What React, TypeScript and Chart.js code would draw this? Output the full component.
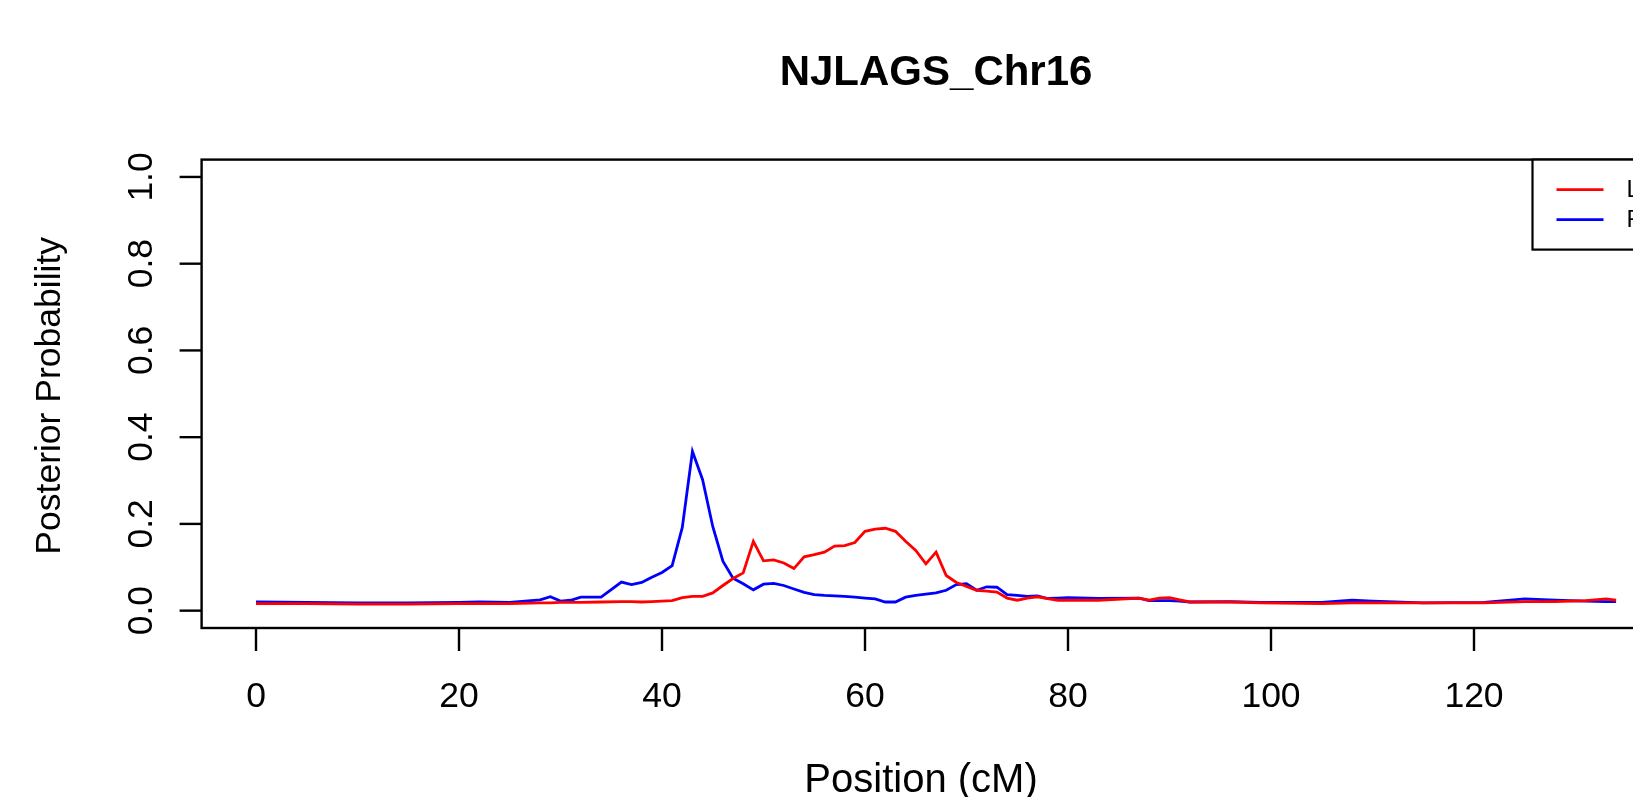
import React, { useEffect, useRef } from "react";
import { Chart, registerables } from "chart.js";

Chart.register(...registerables);

const positions = [
  0, 5, 10, 15, 20, 22, 25, 28, 29, 30, 31, 32, 34, 36, 37, 38, 39, 40, 41, 42, 43, 44, 45, 46, 47, 48, 49,
  50, 51, 52, 53, 54, 55, 56, 57, 58, 59, 60, 61, 62, 63, 64, 65, 66, 67, 68, 69, 70, 71, 72, 73, 74, 75,
  76, 77, 78, 79, 80, 83, 87, 88, 89, 90, 91, 92, 96, 99, 103, 105, 108, 110, 115, 121, 125, 128, 131, 133,
  134,
];

const seriesLI = [
  0.016, 0.016, 0.015, 0.015, 0.016, 0.016, 0.016, 0.018, 0.018, 0.019, 0.019, 0.019, 0.02, 0.021, 0.021,
  0.02, 0.021, 0.022, 0.023, 0.03, 0.033, 0.033, 0.041, 0.058, 0.074, 0.087, 0.16, 0.115, 0.117, 0.11,
  0.097, 0.124, 0.129, 0.135, 0.149, 0.15, 0.157, 0.183, 0.188, 0.19, 0.183, 0.16, 0.139, 0.108, 0.135,
  0.081, 0.065, 0.056, 0.047, 0.045, 0.043, 0.029, 0.024, 0.029, 0.032, 0.028, 0.024, 0.024, 0.024, 0.029,
  0.024, 0.029, 0.03, 0.025, 0.02, 0.02, 0.018, 0.017, 0.016, 0.018, 0.018, 0.018, 0.018, 0.021, 0.021,
  0.023, 0.027, 0.024,
];

const seriesRD = [
  0.02, 0.019, 0.018, 0.018, 0.019, 0.02, 0.019, 0.025, 0.032, 0.022, 0.024, 0.031, 0.031, 0.066, 0.06,
  0.065, 0.077, 0.088, 0.104, 0.192, 0.367, 0.302, 0.194, 0.114, 0.075, 0.062, 0.048, 0.061, 0.063, 0.058,
  0.05, 0.042, 0.037, 0.035, 0.034, 0.033, 0.031, 0.029, 0.027, 0.02, 0.02, 0.031, 0.035, 0.038, 0.041,
  0.047, 0.06, 0.062, 0.047, 0.055, 0.054, 0.037, 0.035, 0.033, 0.034, 0.028, 0.029, 0.03, 0.028, 0.029,
  0.023, 0.023, 0.023, 0.022, 0.02, 0.021, 0.019, 0.019, 0.019, 0.024, 0.022, 0.018, 0.019, 0.027, 0.024,
  0.022, 0.021, 0.021,
];

const seriesNames = ["LI", "RD"];
const seriesColors = ["#FF0000", "#0000FF"];

const xTicks = [0, 20, 40, 60, 80, 100, 120];
const yTicks = [0, 0.2, 0.4, 0.6, 0.8, 1.0];
const yTickLabels = ["0.0", "0.2", "0.4", "0.6", "0.8", "1.0"];

const titleText = "NJLAGS_Chr16";
const xLabel = "Position (cM)";
const yLabel = "Posterior Probability";

const FONT = '"Liberation Sans", Arial, Helvetica, sans-serif';

const rAxesPlugin = {
  id: "rAxes",
  afterDraw(chart: any) {
    const { ctx, chartArea, scales } = chart;
    const { left, right, top, bottom } = chartArea;
    const xs = scales.x;
    const ys = scales.y;
    ctx.save();
    ctx.strokeStyle = "#000";
    ctx.fillStyle = "#000";
    ctx.lineWidth = 2.4;
    // box
    ctx.strokeRect(left, top, right - left, bottom - top);

    // y axis ticks + labels
    ctx.font = `35.5px ${FONT}`;
    yTicks.forEach((v, i) => {
      const py = ys.getPixelForValue(v);
      ctx.beginPath();
      ctx.moveTo(left, py);
      ctx.lineTo(left - 22, py);
      ctx.stroke();
      ctx.save();
      ctx.translate(152, py);
      ctx.rotate(-Math.PI / 2);
      ctx.textAlign = "center";
      ctx.textBaseline = "alphabetic";
      ctx.fillText(yTickLabels[i], 0, 0);
      ctx.restore();
    });

    // x axis ticks + labels
    xTicks.forEach((v) => {
      const px = xs.getPixelForValue(v);
      ctx.beginPath();
      ctx.moveTo(px, bottom);
      ctx.lineTo(px, bottom + 23);
      ctx.stroke();
      ctx.textAlign = "center";
      ctx.textBaseline = "alphabetic";
      ctx.fillText(String(v), px, 707);
    });

    const cx = (left + right) / 2;
    const cy = (top + bottom) / 2;

    // y label
    ctx.save();
    ctx.translate(60, cy + 2);
    ctx.rotate(-Math.PI / 2);
    ctx.textAlign = "center";
    ctx.fillText(yLabel, 0, 0);
    ctx.restore();

    // x label
    ctx.font = `40px ${FONT}`;
    ctx.textAlign = "center";
    ctx.fillText(xLabel, cx - 15, 792);

    // title
    ctx.font = `bold 42px ${FONT}`;
    ctx.textAlign = "center";
    ctx.fillText(titleText, cx, 85);

    // legend (top right)
    const legW = 138;
    const legH = 90;
    const lx = right - legW;
    const ly = top;
    ctx.lineWidth = 2.2;
    ctx.fillStyle = "#fff";
    ctx.fillRect(lx, ly, legW, legH);
    ctx.strokeStyle = "#000";
    ctx.strokeRect(lx, ly, legW, legH);
    ctx.font = `24px ${FONT}`;
    ctx.textAlign = "left";
    ctx.textBaseline = "middle";
    chart.data.datasets.forEach((ds: any, i: number) => {
      const yy = ly + 30 + i * 30;
      ctx.strokeStyle = ds.borderColor;
      ctx.lineWidth = 2.6;
      ctx.beginPath();
      ctx.moveTo(lx + 24, yy);
      ctx.lineTo(lx + 71, yy);
      ctx.stroke();
      ctx.fillStyle = "#000";
      ctx.fillText(ds.label, lx + 94, yy + 1);
    });
    ctx.restore();
  },
};

export default function App() {
  const canvasRef = useRef<HTMLCanvasElement | null>(null);

  useEffect(() => {
    const canvas = canvasRef.current;
    if (!canvas) return;
    const xMin = -0.04 * 134;
    const xMax = 134 + 0.04 * 134;
    const chart = new Chart(canvas, {
      type: "line",
      data: {
        datasets: [seriesLI, seriesRD].map((vals, i) => ({
          label: seriesNames[i],
          data: positions.map((p, j) => ({ x: p, y: vals[j] })),
          borderColor: seriesColors[i],
          backgroundColor: seriesColors[i],
          borderWidth: 2.8,
          pointRadius: 0,
          tension: 0,
          fill: false,
        })),
      },
      options: {
        responsive: false,
        animation: false,
        devicePixelRatio: 1,
        layout: { padding: { left: 201.6, right: 29.5, top: 159.6, bottom: 169 } },
        plugins: {
          legend: { display: false },
          title: { display: false },
          tooltip: { enabled: false },
        },
        scales: {
          x: { type: "linear", min: xMin, max: xMax, display: false },
          y: { type: "linear", min: -0.04, max: 1.04, display: false },
        },
      },
      plugins: [rAxesPlugin],
    });
    return () => chart.destroy();
  }, []);

  return (
    <div
      style={{
        position: "fixed",
        left: 0,
        top: 0,
        width: 1633,
        height: 797,
        overflow: "hidden",
        background: "#fff",
      }}
    >
      <canvas ref={canvasRef} width={1700} height={797} style={{ display: "block" }} />
    </div>
  );
}
